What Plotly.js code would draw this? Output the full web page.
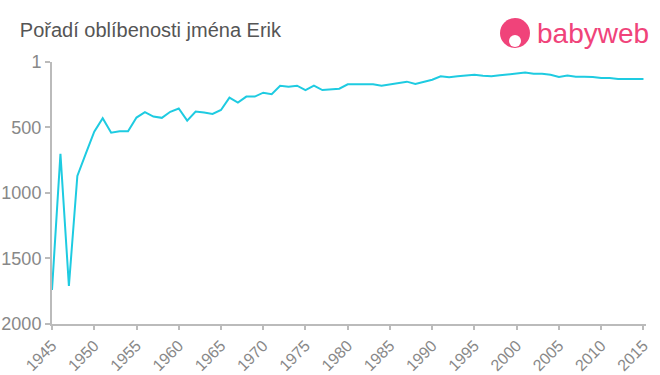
<!DOCTYPE html>
<html><head><meta charset="utf-8">
<script src="https://cdn.plot.ly/plotly-3.0.1.min.js"></script>
<style>body{margin:0;padding:0;background:#fff}#c{width:660px;height:375px}</style>
</head><body><div id="c"></div>
<script>
var years = [];
for (var y = 1945; y <= 2015; y++) years.push(y);
var ranks = [1740, 702, 1709, 870, 700, 532, 430, 540, 530, 530,
  425, 384, 417, 427, 381, 356, 448, 379, 387, 397,
  367, 273, 311, 265, 265, 235, 247, 182, 189, 182,
  215, 182, 215, 212, 205, 171, 171, 171, 171, 182,
  171, 163, 151, 169, 151, 136, 110, 118, 110, 105,
  98, 105, 110, 102, 95, 90, 82, 90, 90, 98,
  115, 105, 113, 113, 115, 123, 123, 131, 131, 131, 131];
var yTicks = [1, 500, 1000, 1500, 2000];
var xTicks = [1945,1950,1955,1960,1965,1970,1975,1980,1985,1990,1995,2000,2005,2010,2015];

var trace = {x: years, y: ranks, type: 'scatter', mode: 'lines',
  line: {color: '#1ecbe1', width: 2}, hoverinfo: 'x+y'};

var font = 'Liberation Sans, Arial, sans-serif';
var layout = {
  width: 660, height: 375,
  margin: {l: 52, r: 14, t: 62, b: 51},
  paper_bgcolor: '#fff', plot_bgcolor: '#fff',
  showlegend: false,
  title: {text: 'Pořadí oblíbenosti jména Erik', x: 0.03, xanchor: 'left', y: 0.92, yanchor: 'middle',
    font: {family: font, size: 20, color: '#555'}},
  xaxis: {range: [1945, 2015.3], tickvals: xTicks, ticktext: xTicks.map(String), tickangle: -45,
    showgrid: false, zeroline: false, showline: true, linecolor: '#bbb', linewidth: 2,
    ticks: 'outside', ticklen: 4, tickcolor: '#bbb', tickwidth: 2,
    tickfont: {family: font, size: 16, color: '#888'}},
  yaxis: {range: [2000, 1], tickvals: yTicks, ticktext: yTicks.map(String),
    showgrid: false, zeroline: false, showline: true, linecolor: '#bbb', linewidth: 2,
    ticks: 'outside', ticklen: 5, tickcolor: '#bbb', tickwidth: 2,
    tickfont: {family: font, size: 18, color: '#888'}},
  shapes: [
    {type: 'circle', xref: 'paper', yref: 'paper', xsizemode: 'pixel', ysizemode: 'pixel',
      xanchor: (515 - 52) / 594, yanchor: (324 - 33) / 262,
      x0: -15, x1: 15, y0: -15, y1: 15, fillcolor: '#f0437a', line: {width: 0}},
    {type: 'circle', xref: 'paper', yref: 'paper', xsizemode: 'pixel', ysizemode: 'pixel',
      xanchor: (515 - 52) / 594, yanchor: (324 - 41) / 262,
      x0: -6, x1: 6, y0: -6, y1: 6, fillcolor: '#fff', line: {width: 0}}
  ],
  annotations: [
    {text: 'babyweb', xref: 'paper', yref: 'paper', x: (535 - 52) / 594, y: (324 - 33) / 262,
      xanchor: 'left', yanchor: 'middle', showarrow: false,
      font: {family: font, size: 28, color: '#f0437a'}}
  ]
};
Plotly.newPlot('c', [trace], layout, {displayModeBar: false, staticPlot: true});
</script></body></html>
